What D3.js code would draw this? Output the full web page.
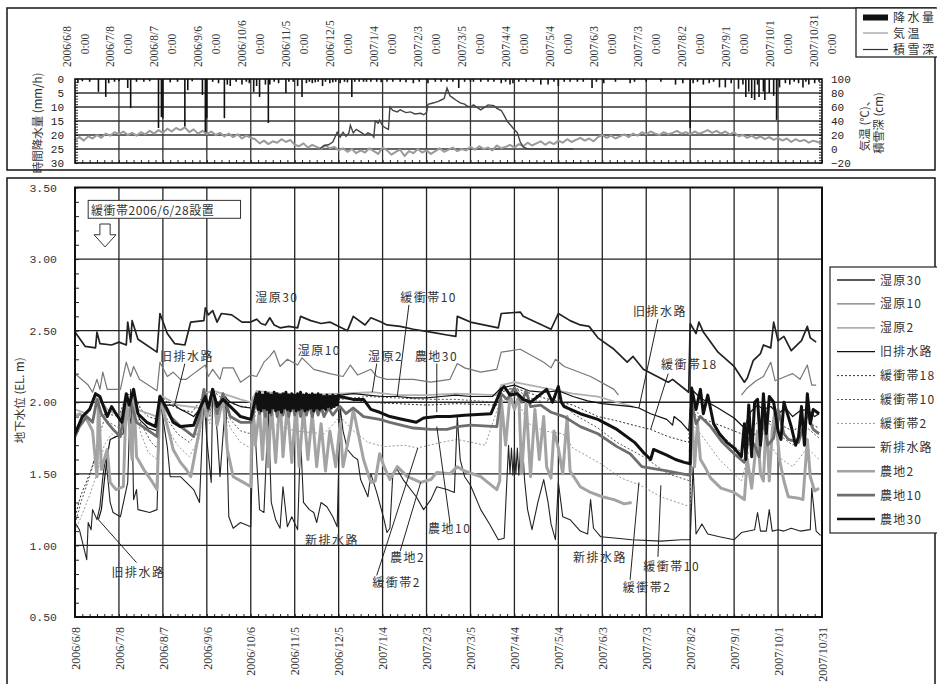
<!DOCTYPE html>
<html>
<head>
<meta charset="utf-8">
<script src="https://cdn.jsdelivr.net/npm/d3@7"></script>
<style>
  body { margin: 0; background: #fff; }
  svg { display: block; }
</style>
</head>
<body>
<svg id="chart" width="937" height="684"></svg>
<script>
// all x values are days since 2006/6/8 0:00
const tickDays = [0, 30, 60, 90, 120, 150, 180, 210, 240, 270, 300, 330, 360, 390, 420, 450, 480, 510];
const tickLabels = ['2006/6/8', '2006/7/8', '2006/8/7', '2006/9/6', '2006/10/6', '2006/11/5', '2006/12/5',
  '2007/1/4', '2007/2/3', '2007/3/5', '2007/4/4', '2007/5/4', '2007/6/3', '2007/7/3', '2007/8/2',
  '2007/9/1', '2007/10/1', '2007/10/31'];
const rainTicks = [0, 5, 10, 15, 20, 25, 30];
const tempTicks = [100, 80, 60, 40, 20, 0, -20];
const gwTicks = [0.5, 1.0, 1.5, 2.0, 2.5, 3.0, 3.5];

// hourly precipitation (mm/h): [day, mm]
const rain = [[2, 1.4], [10, 1], [16, 4.6], [21, 6.4], [23, 1.5], [36, 3.2], [38, 10.4], [42, 1], [57, 17.5], [59, 13.6],
  [60, 14], [70, 1], [75, 17], [77, 4], [87, 5.7], [89, 18.9], [90, 14], [98, 1.5], [102, 14], [104, 2], [106, 2.5],
  [114, 2], [122, 4.6], [124, 2.5], [126, 6.4], [130, 2], [132, 15.7], [133, 2], [144, 5], [146, 1], [152, 2.5],
  [155, 6.4], [158, 1.5], [162, 1.5], [166, 1], [169, 2.5], [174, 1.5], [178, 1], [181, 1.5], [189, 6.4], [191, 1],
  [197, 1], [202, 1], [206, 1], [213, 1], [222, 1], [231, 1.5], [241, 1.5], [254, 1], [262, 3.2], [270, 1], [272, 1],
  [282, 1], [291, 1.5], [297, 2], [299, 1.5], [308, 1], [318, 2], [323, 2], [330, 2.5], [334, 1], [338, 1], [347, 1],
  [353, 3.2], [361, 1.5], [379, 1.5], [382, 1], [390, 1], [410, 2], [415, 1.5], [420, 17.5], [422, 1.5], [429, 2],
  [433, 1.5], [440, 3], [444, 3], [453, 3.5], [458, 6.4], [460, 4.5], [462, 6.8], [464, 7.5], [467, 6.4], [470, 4.5],
  [471, 7.5], [474, 5], [477, 6], [479, 14.6], [481, 3], [488, 2], [494, 1.5], [497, 3], [501, 2], [505, 1.5],
  [5, 0.8], [27, 1], [30, 0.8], [47, 1], [51, 0.8], [65, 1.2], [80, 0.8], [94, 1], [110, 1], [117, 1], [119, 1.5],
  [136, 1], [139, 1.5], [149, 1], [160, 1], [164, 1.2], [171, 1], [176, 1.2], [184, 1], [186, 1.2], [194, 1], [199, 1],
  [209, 1.2], [217, 1], [226, 1.2], [235, 1], [246, 1], [250, 1], [258, 1], [266, 1], [277, 1], [286, 1], [294, 1],
  [303, 1], [313, 1], [327, 1], [343, 1], [356, 1], [369, 1], [400, 1], [425, 1], [436, 1], [448, 1.5], [456, 2],
  [466, 2], [485, 1.5], [491, 1], [499, 1], [508, 1]];

// air temperature (deg C), one reading every 3 days from day 0
const tempStep = 3;
const temp = [13, 17, 12, 18, 15, 20, 16, 22, 19, 24, 21,
  25, 20, 23, 19, 24, 21, 26, 22, 27, 23,
  29, 25, 30, 27, 31, 24, 28, 22, 26, 21,
  25, 20, 23, 18, 22, 17, 21, 15, 19, 16,
  14, 8, 12, 7, 11, 9, 14, 10, 13, 6,
  4, 8, 2, 6, 3, 0, 5, 1, 3, -2,
  1, -4, 0, -6, -2, -5, 1, -3, -7, 2,
  -2, -8, -4, -1, -10, -3, -6, 0, -5, -2,
  -7, -3, 1, -4, -1, 2, -3, 0, -2, 3,
  -1, 4, 0, 2, -2, 5, 1, 3, 6, 2,
  7, 4, 9, 5, 8, 11, 6, 10, 7, 12,
  9, 14, 10, 13, 16, 12, 15, 11, 17, 20,
  16, 19, 15, 18, 21, 17, 22, 19, 24, 21,
  25, 22, 20, 24, 21, 23, 26, 22, 24, 21,
  25, 22, 24, 27, 23, 26, 22, 25, 21, 24,
  18, 20, 16, 19, 15, 18, 14, 17, 13, 16,
  12, 15, 10, 14, 11, 13, 9, 12, 10, 8];

// snow depth (cm): [day, cm]
const snow = [[167, 0], [170, 5], [173, 6], [176, 10], [179, 24], [181, 17], [183, 24], [185, 18], [187, 23], [188, 34],
  [190, 23], [192, 28], [195, 24], [198, 20], [200, 23], [203, 20], [204, 17], [205, 40], [207, 37], [208, 41], [210, 33],
  [212, 30], [214, 28], [215, 60], [217, 55], [220, 53], [222, 56], [226, 52], [229, 53], [232, 50], [236, 51], [238, 49],
  [240, 52], [241, 64], [245, 66], [248, 68], [250, 70], [252, 72], [254, 87], [256, 76], [258, 73], [260, 70], [263, 66],
  [266, 64], [268, 61], [270, 60], [272, 63], [277, 56], [280, 60], [282, 63], [286, 62], [288, 58], [291, 55], [293, 48],
  [295, 40], [297, 35], [299, 30], [302, 23], [304, 10], [306, 3], [309, 0], [340, 0]];

// groundwater level (EL. m): [day, m]
const shitsugen30 = [[0, 2.49], [7, 2.39], [14, 2.38], [15, 2.49], [17, 2.41], [25, 2.40], [30, 2.42], [35, 2.40], [36, 2.56],
  [38, 2.42], [39, 2.57], [43, 2.44], [56, 2.35], [58, 2.62], [63, 2.48], [68, 2.41], [75, 2.40], [79, 2.56], [88, 2.57],
  [89, 2.66], [91, 2.61], [94, 2.64], [97, 2.56], [100, 2.62], [107, 2.61], [114, 2.56], [120, 2.56], [124, 2.58], [127, 2.55],
  [130, 2.54], [133, 2.59], [136, 2.54], [140, 2.52], [146, 2.53], [152, 2.52], [154, 2.60], [161, 2.57], [168, 2.55], [174, 2.56],
  [186, 2.50], [190, 2.60], [198, 2.54], [202, 2.59], [209, 2.56], [213, 2.54], [222, 2.53], [231, 2.51], [243, 2.49],
  [254, 2.47], [260, 2.46], [261, 2.60], [270, 2.56], [289, 2.52], [291, 2.62], [304, 2.63], [306, 2.60], [325, 2.51],
  [330, 2.62], [338, 2.57], [345, 2.54], [351, 2.53], [357, 2.45], [368, 2.37], [377, 2.28], [381, 2.32], [388, 2.23],
  [405, 2.14], [408, 2.16], [419, 2.07], [420, 2.55], [424, 2.48], [426, 2.56], [429, 2.49], [439, 2.35], [450, 2.25],
  [457, 2.14], [459, 2.17], [463, 2.29], [468, 2.34], [470, 2.40], [475, 2.38], [477, 2.56], [480, 2.43], [484, 2.46],
  [489, 2.36], [496, 2.43], [500, 2.53], [502, 2.45], [506, 2.42]];
const shitsugen10 = [[0, 2.20], [9, 2.12], [12, 2.07], [15, 2.16], [17, 2.09], [19, 2.21], [22, 2.09], [31, 2.09], [35, 2.28],
  [38, 2.18], [40, 2.25], [44, 2.16], [56, 2.08], [58, 2.28], [63, 2.18], [67, 2.21], [72, 2.16], [76, 2.16], [81, 2.20],
  [89, 2.26], [91, 2.18], [94, 2.23], [99, 2.16], [101, 2.24], [108, 2.24], [113, 2.14], [120, 2.19], [124, 2.18], [129, 2.28],
  [133, 2.32], [136, 2.36], [140, 2.25], [145, 2.30], [152, 2.26], [155, 2.31], [163, 2.23], [174, 2.20], [183, 2.18],
  [188, 2.26], [193, 2.19], [202, 2.23], [206, 2.18], [213, 2.16], [231, 2.16], [243, 2.14], [256, 2.16], [261, 2.27],
  [266, 2.24], [277, 2.21], [288, 2.23], [291, 2.35], [304, 2.37], [320, 2.28], [325, 2.24], [328, 2.30], [334, 2.25],
  [352, 2.18], [368, 2.09], [371, 2.05], [372, null], [455, 2.05], [459, 2.10], [465, 2.15], [470, 2.18], [475, 2.28],
  [478, 2.15], [485, 2.18], [490, 2.20], [495, 2.16], [500, 2.26], [503, 2.12], [506, 2.12]];
const shitsugen2 = [[0, 1.95], [8, 1.92], [15, 2.05], [22, 1.95], [31, 1.90], [35, 2.04], [42, 1.95], [56, 1.90], [58, 2.05],
  [70, 1.98], [85, 1.96], [88, 2.06], [94, 2.08], [101, 2.06], [113, 2.02], [120, 2.00], [124, 2.08], [140, 2.06], [160, 2.05],
  [181, 2.06], [203, 2.07], [220, 2.05], [240, 2.05], [260, 2.06], [288, 2.05], [291, 2.12], [300, 2.14], [320, 2.10],
  [340, 2.06], [357, 2.04], [370, 2.00], [381, 1.97]];
const kyuHaisuiro = [[16, 1.18], [18, 1.25], [20, 1.45], [22, 1.62], [24, 1.74], [28, 1.76], [33, 1.78], [35, 2.00], [38, 1.85],
  [40, 2.05], [44, 1.88], [50, 1.82], [56, 1.80], [58, 2.02], [62, 1.98], [68, 1.98], [72, 1.95], [76, 1.93], [81, 1.90],
  [85, 1.95], [88, 2.06], [91, 1.98], [94, 2.07], [98, 1.98], [101, 2.05], [106, 2.00], [113, 1.97], [120, 1.96], [124, 2.06],
  [130, 2.05], [140, 2.04], [150, 2.05], [160, 2.04], [170, 2.04], [181, 2.05], [190, 2.06], [200, 2.05], [210, 2.04],
  [220, 2.04], [230, 2.03], [240, 2.03], [250, 2.04], [260, 2.05], [270, 2.04], [285, 2.04], [291, 2.10], [300, 2.12],
  [310, 2.08], [320, 2.07], [330, 2.08], [340, 2.04], [350, 2.01], [360, 1.99], [370, 1.98], [380, 1.97], [385, 1.96],
  [393, 1.92], [404, 1.88], [408, 1.84], [409, 1.90], [414, 1.86], [419, 1.80], [420, 1.95], [422, 2.08], [427, 2.03],
  [439, 1.96], [450, 1.89], [457, 1.82], [461, 1.93], [466, 1.98], [470, 1.95], [475, 1.97], [480, 1.92], [485, 1.96],
  [490, 1.90], [495, 1.94], [500, 1.95], [505, 1.90], [508, 1.92]];
const kanshoutai18 = [[0, 1.20], [4, 1.35], [10, 1.50], [15, 1.65], [17, 1.90], [22, 1.92], [30, 1.90], [35, 2.05], [40, 2.06],
  [45, 1.95], [50, 1.90], [56, 1.88], [58, 2.05], [65, 1.98], [72, 1.95], [80, 1.93], [88, 2.05], [94, 2.08], [100, 2.03],
  [110, 1.98], [120, 1.96], [124, 2.05], [150, 2.04], [181, 2.03], [200, 2.00], [220, 1.99], [240, 1.98], [260, 1.99],
  [288, 1.98], [291, 2.08], [300, 2.10], [320, 2.03], [340, 1.98], [357, 1.90], [370, 1.87], [385, 1.83], [393, 1.81],
  [405, 1.76], [419, 1.72], [420, 1.95], [425, 1.90], [440, 1.84], [455, 1.78], [460, 1.70], [470, 1.88], [480, 1.85],
  [490, 1.80], [500, 1.86], [508, 1.82]];
const kanshoutai10 = [[0, 1.15], [4, 1.30], [8, 1.42], [12, 1.55], [16, 1.75], [20, 1.88], [25, 1.85], [30, 1.82], [35, 2.03],
  [40, 2.05], [45, 1.85], [52, 1.72], [56, 1.68], [58, 2.02], [63, 1.88], [70, 1.78], [78, 1.72], [85, 1.80], [88, 2.03],
  [92, 1.90], [94, 2.07], [98, 1.90], [101, 2.03], [106, 1.88], [113, 1.80], [120, 1.78], [124, 2.04], [130, 1.98],
  [140, 2.02], [150, 2.00], [165, 1.98], [181, 2.02], [200, 2.04], [220, 2.03], [240, 2.02], [260, 2.02], [288, 2.00],
  [291, 2.07], [300, 2.10], [310, 2.03], [320, 2.00], [330, 2.04], [340, 1.92], [357, 1.82], [370, 1.72], [388, 1.62],
  [405, 1.50], [420, 1.45], [421, 1.98], [427, 1.90], [440, 1.78], [455, 1.65], [460, 1.80], [470, 1.90], [480, 1.78],
  [490, 1.70], [500, 1.82], [508, 1.75]];
const kanshoutai2 = [[0, 1.10], [5, 1.22], [10, 1.35], [15, 1.50], [20, 1.70], [25, 1.78], [30, 1.74], [35, 2.00], [40, 2.02],
  [45, 1.78], [50, 1.65], [56, 1.60], [58, 1.98], [63, 1.82], [70, 1.70], [78, 1.62], [85, 1.75], [88, 2.00], [92, 1.85],
  [94, 2.05], [98, 1.85], [101, 2.00], [106, 1.82], [113, 1.72], [120, 1.68], [124, 1.98], [135, 1.85], [150, 1.80],
  [170, 1.78], [181, 1.90], [190, 1.80], [200, 1.72], [211, 1.69], [225, 1.70], [234, 1.68], [250, 1.72], [261, 1.74],
  [280, 1.70], [290, 2.00], [300, 2.05], [310, 1.85], [320, 1.80], [333, 1.78], [340, 1.68], [359, 1.57], [373, 1.47],
  [386, 1.42], [400, 1.34], [420, 1.27], [421, 1.85], [427, 1.78], [440, 1.60], [455, 1.45], [460, 1.65], [470, 1.78],
  [480, 1.62], [490, 1.55], [500, 1.68], [508, 1.60]];
const shinHaisuiro = [[0, 1.16], [3, 1.11], [8, 0.90], [9, 1.16], [11, 1.11], [12, 1.25], [15, 1.18], [17, 1.27], [19, 1.48],
  [21, 1.62], [24, 1.30], [26, 1.23], [31, 1.20], [36, 1.44], [38, 2.09], [39, 1.86], [40, 1.32], [42, 1.39], [43, 1.25],
  [51, 1.23], [56, 1.25], [58, 2.02], [63, 1.69], [65, 1.48], [72, 1.48], [76, 1.44], [81, 1.39], [85, 1.30], [88, 2.04],
  [90, 1.74], [93, 1.44], [94, 2.09], [97, 1.80], [99, 1.48], [103, 2.04], [105, 1.20], [108, 1.12], [113, 1.16], [120, 1.13],
  [122, 1.99], [124, 1.60], [126, 1.25], [129, 1.23], [132, 1.95], [134, 1.30], [137, 1.18], [140, 1.12], [142, 1.41],
  [145, 1.13], [148, 1.20], [152, 1.11], [154, 1.76], [156, 1.30], [160, 1.25], [163, 1.23], [165, 1.16], [168, 1.30],
  [172, 1.27], [176, 1.20], [179, 1.13], [181, 1.97], [183, 1.80], [186, 1.67], [190, 1.62], [193, 1.60], [195, 1.46],
  [200, 1.34], [202, 1.50], [206, 1.37], [211, 1.18], [213, 1.09], [215, 1.12], [217, 1.50], [220, 1.53], [224, 1.46],
  [233, 1.34], [238, 1.25], [243, 1.32], [247, 1.41], [254, 1.39], [259, 1.37], [261, 1.90], [263, 1.60], [266, 1.48],
  [270, 1.42], [277, 1.25], [283, 1.15], [289, 1.04], [293, 1.05], [296, 1.70], [297, 1.50], [298, 1.68], [299, 1.49],
  [300, 1.67], [301, 1.50], [302, 1.68], [303, 1.49], [304, 1.66], [305, 1.50], [306, 1.62], [307, 1.45], [309, 1.25],
  [312, 1.11], [316, 1.30], [320, 1.46], [323, 1.30], [325, 1.15], [328, 1.04], [330, 1.44], [333, 1.20], [338, 1.18],
  [345, 1.10], [350, 1.08], [352, 1.32], [354, 1.12], [359, 1.06], [370, 1.05], [380, 1.04], [400, 1.03], [414, 1.04],
  [420, 1.04], [422, 1.55], [424, 1.08], [428, 1.15], [432, 1.08], [440, 1.06], [450, 1.04], [455, 1.09], [464, 1.11],
  [466, 1.23], [468, 1.10], [472, 1.10], [474, 1.25], [476, 1.10], [480, 1.11], [484, 1.10], [489, 1.12], [495, 1.10],
  [502, 1.11], [503, 1.40], [506, 1.10], [509, 1.07]];
const nouchi2 = [[0, 1.90], [3, 1.92], [8, 1.88], [12, 1.80], [15, 1.48], [16, 2.02], [18, 1.53], [22, 1.67], [24, 1.44],
  [28, 1.39], [33, 1.41], [35, 2.02], [37, 1.85], [39, 1.60], [40, 2.09], [42, 1.62], [47, 1.53], [53, 1.44], [56, 1.39],
  [58, 2.04], [60, 1.95], [65, 1.76], [67, 1.67], [72, 1.58], [76, 1.53], [79, 1.48], [85, 1.81], [88, 2.04], [90, 1.90],
  [94, 2.09], [97, 1.84], [101, 2.04], [104, 1.67], [108, 1.48], [115, 1.44], [120, 1.41], [121, 2.02], [123, 1.70],
  [126, 1.95], [128, 1.60], [130, 2.03], [132, 1.55], [134, 2.00], [137, 1.58], [140, 2.05], [142, 1.62], [145, 1.98],
  [148, 1.58], [151, 2.00], [153, 1.55], [156, 1.96], [159, 1.60], [162, 1.92], [165, 1.55], [168, 1.85], [171, 1.52],
  [174, 1.80], [178, 1.55], [181, 1.85], [183, 1.55], [188, 1.81], [190, 1.95], [194, 1.75], [197, 1.60], [202, 1.44],
  [205, 1.45], [208, 1.64], [211, 1.55], [215, 1.46], [220, 1.55], [227, 1.48], [236, 1.44], [243, 1.46], [247, 1.51],
  [256, 1.50], [261, 1.55], [266, 1.52], [277, 1.48], [288, 1.39], [290, 1.45], [291, 2.02], [294, 1.70], [297, 2.05],
  [300, 1.95], [303, 2.04], [305, 1.50], [308, 2.00], [311, 1.48], [314, 1.95], [317, 1.60], [320, 1.90], [322, 1.55],
  [325, 1.47], [327, 1.80], [330, 1.68], [333, 1.50], [336, 1.90], [338, 1.52], [345, 1.41], [352, 1.37], [360, 1.34],
  [368, 1.32], [375, 1.29], [380, 1.30], [381, null], [420, 1.65], [421, 1.95], [423, 1.55], [425, 1.85], [427, 1.60],
  [430, 1.55], [434, 1.47], [441, 1.40], [450, 1.37], [457, 1.32], [459, 1.60], [462, 1.40], [466, 1.80], [468, 1.50],
  [470, 1.45], [472, 1.90], [474, 1.45], [476, 1.80], [478, 1.95], [481, 1.60], [484, 1.45], [487, 1.34], [494, 1.33],
  [497, 1.32], [500, 1.74], [502, 1.48], [505, 1.38], [508, 1.40]];
const nouchi10 = [[0, 1.76], [3, 1.83], [8, 1.90], [12, 1.86], [15, 2.02], [18, 1.92], [22, 1.86], [26, 1.81], [31, 1.76],
  [35, 2.04], [38, 2.00], [42, 1.86], [49, 1.81], [56, 1.76], [58, 2.04], [62, 1.95], [65, 1.90], [72, 1.83], [76, 1.80],
  [81, 1.76], [85, 1.90], [88, 2.09], [91, 1.94], [94, 2.09], [97, 1.92], [101, 2.06], [106, 1.90], [113, 1.86], [120, 1.86],
  [124, 2.02], [126, 1.92], [128, 2.01], [130, 1.90], [132, 2.03], [134, 1.91], [136, 2.04], [138, 1.90], [140, 2.02],
  [142, 1.91], [144, 2.01], [146, 1.90], [148, 2.02], [150, 1.91], [152, 2.00], [154, 1.90], [156, 2.01], [158, 1.91],
  [160, 1.99], [162, 1.90], [164, 1.98], [166, 1.91], [168, 1.97], [170, 1.90], [173, 1.96], [176, 1.91], [179, 1.95],
  [181, 1.97], [185, 1.92], [190, 1.96], [197, 1.90], [208, 1.88], [215, 1.86], [231, 1.82], [243, 1.81], [254, 1.81],
  [261, 1.83], [270, 1.84], [288, 1.83], [291, 2.06], [295, 2.02], [300, 2.10], [305, 2.00], [308, 2.08], [311, 1.97],
  [318, 1.98], [325, 1.93], [334, 1.90], [345, 1.83], [357, 1.78], [370, 1.69], [379, 1.64], [387, 1.55], [404, 1.52],
  [420, 1.49], [421, 2.00], [424, 1.85], [427, 1.90], [434, 1.83], [442, 1.72], [450, 1.64], [457, 1.58], [460, 1.75],
  [464, 1.70], [467, 1.62], [470, 1.88], [473, 1.70], [477, 1.75], [480, 1.95], [484, 1.78], [487, 1.74], [494, 1.72],
  [500, 1.92], [504, 1.81], [508, 1.78]];
const nouchi30 = [[0, 1.78], [5, 1.90], [10, 1.95], [14, 2.06], [17, 2.04], [22, 1.90], [25, 1.97], [28, 1.92], [32, 1.86],
  [35, 2.06], [37, 1.98], [40, 2.09], [43, 1.92], [49, 1.86], [55, 1.83], [58, 2.04], [63, 1.95], [67, 1.86], [72, 1.83],
  [81, 1.84], [85, 1.95], [89, 2.04], [91, 1.96], [94, 2.09], [97, 1.97], [101, 2.02], [108, 1.95], [113, 1.90], [120, 1.88],
  [124, 2.06], [125, 1.95], [126, 2.07], [127, 1.94], [128, 2.05], [129, 1.96], [130, 2.07], [131, 1.95], [132, 2.06],
  [133, 1.93], [134, 2.05], [135, 1.96], [136, 2.07], [137, 1.94], [138, 2.06], [139, 1.95], [140, 2.05], [141, 1.93],
  [142, 2.06], [143, 1.96], [144, 2.07], [145, 1.95], [146, 2.05], [147, 1.94], [148, 2.06], [149, 1.96], [150, 2.05],
  [151, 1.94], [152, 2.06], [153, 1.95], [154, 2.07], [155, 1.96], [156, 2.05], [157, 1.94], [158, 2.06], [159, 1.95],
  [160, 2.05], [161, 1.96], [162, 2.06], [163, 1.94], [164, 2.05], [165, 1.96], [166, 2.06], [167, 1.95], [168, 2.05],
  [169, 1.96], [170, 2.04], [171, 1.95], [172, 2.05], [173, 1.97], [174, 2.04], [175, 1.96], [176, 2.05], [177, 1.97],
  [178, 2.04], [179, 1.98], [180, 2.05], [181, 2.04], [190, 2.02], [197, 2.02], [202, 1.95], [208, 1.93],
  [215, 1.90], [224, 1.88], [233, 1.86], [238, 1.89], [247, 1.90], [256, 1.90], [266, 1.91], [284, 1.92], [291, 2.09],
  [293, 2.11], [297, 2.05], [302, 2.06], [306, 2.02], [311, 2.00], [316, 2.04], [322, 2.09], [326, 2.00], [330, 2.11],
  [332, 2.00], [334, 1.97], [345, 1.92], [357, 1.88], [370, 1.81], [382, 1.72], [388, 1.65], [393, 1.60], [395, 1.67],
  [404, 1.63], [410, 1.60], [416, 1.58], [420, 1.57], [421, 2.10], [424, 1.95], [427, 2.09], [429, 1.92], [432, 2.05],
  [436, 1.85], [440, 1.78], [445, 1.72], [450, 1.68], [455, 1.62], [457, 1.85], [458, 1.60], [460, 1.98], [462, 1.62],
  [464, 2.00], [466, 2.02], [468, 1.70], [470, 2.06], [472, 1.78], [474, 2.04], [477, 2.00], [480, 1.80], [482, 1.74],
  [484, 2.00], [487, 1.90], [489, 1.83], [492, 1.70], [494, 1.76], [496, 1.97], [498, 1.70], [500, 2.06], [502, 1.85],
  [504, 1.95], [508, 1.92]];

// series order = legend order; style table kept apart from the values
const gwSeries = [
  { name: '湿原30', data: shitsugen30 },
  { name: '湿原10', data: shitsugen10 },
  { name: '湿原2', data: shitsugen2 },
  { name: '旧排水路', data: kyuHaisuiro },
  { name: '緩衝帯18', data: kanshoutai18 },
  { name: '緩衝帯10', data: kanshoutai10 },
  { name: '緩衝帯2', data: kanshoutai2 },
  { name: '新排水路', data: shinHaisuiro },
  { name: '農地2', data: nouchi2 },
  { name: '農地10', data: nouchi10 },
  { name: '農地30', data: nouchi30 },
];
const gwStyle = {
  '湿原30': { color: '#222', width: 1.7 },
  '湿原10': { color: '#777', width: 1.2 },
  '湿原2': { color: '#b0b0b0', width: 1.8 },
  '旧排水路': { color: '#111', width: 1.2 },
  '緩衝帯18': { color: '#333', width: 1, dash: '2,2' },
  '緩衝帯10': { color: '#555', width: 1, dash: '2,2' },
  '緩衝帯2': { color: '#999', width: 1, dash: '2,2' },
  '新排水路': { color: '#222', width: 1.1 },
  '農地2': { color: '#a3a3a3', width: 3 },
  '農地10': { color: '#6e6e6e', width: 2.8 },
  '農地30': { color: '#111', width: 3 },
};
const drawOrder = ['緩衝帯2', '緩衝帯10', '緩衝帯18', '湿原2', '湿原10', '新排水路', '旧排水路', '農地2', '農地10', '農地30', '湿原30'];

// labels in the lower panel: [text, day, level, leader-from day, level, leader-to day, level]
const notes = [
  ['湿原30', 123, 2.70],
  ['緩衝帯10', 222, 2.70, 228, 2.68, 220, 2.04],
  ['湿原10', 152, 2.33],
  ['湿原2', 200, 2.29, 206, 2.27, 203, 2.07],
  ['農地30', 232, 2.29, 247, 2.27, 247, 1.93],
  ['旧排水路', 58, 2.29, 75, 2.27, 68, 1.98],
  ['旧排水路', 25, 0.78, 42, 0.88, 16, 1.18],
  ['農地10', 241, 1.09, 256, 1.16, 247, 1.83],
  ['新排水路', 157, 1.00],
  ['農地2', 215, 0.885, 222, 0.96, 236, 1.44],
  ['緩衝帯2', 203, 0.71, 206, 0.79, 234, 1.68],
  ['新排水路', 340, 0.885],
  ['緩衝帯2', 374, 0.675, 379, 0.76, 385, 1.44],
  ['緩衝帯10', 388, 0.82, 398, 0.92, 400, 1.42],
  ['旧排水路', 381, 2.60, 398, 2.58, 385, 1.96],
  ['緩衝帯18', 400, 2.23, 405, 2.20, 393, 1.81],
];

const MONO = '"Liberation Mono", monospace';
const SERIF = '"Liberation Serif", serif';
const JP = '"Noto Sans CJK JP", "Noto Sans CJK SC", sans-serif';

const svg = d3.select('#chart');
const plotL = 75;
const plotR = 822;
const topPanel = { t: 79, b: 163 };
const lowPanel = { t: 187.5, b: 617 };

const x = d3.scaleLinear().domain([0, 510]).range([plotL, plotR]);
const yRain = d3.scaleLinear().domain([0, 30]).range([topPanel.t, topPanel.b]);
const yTemp = d3.scaleLinear().domain([-20, 100]).range([topPanel.b, topPanel.t]);
const yGw = d3.scaleLinear().domain([0.5, 3.5]).range([lowPanel.b, lowPanel.t]);

// outer frames
svg.append('rect').attr('x', 7).attr('y', 8).attr('width', 928).attr('height', 162)
  .attr('fill', 'none').attr('stroke', '#222').attr('stroke-width', 1.6);
svg.append('rect').attr('x', 7).attr('y', 178).attr('width', 928).attr('height', 540)
  .attr('fill', 'none').attr('stroke', '#222').attr('stroke-width', 1.6);

const noDomain = g => g.select('.domain').remove();

// ---------- top panel ----------
const gt = svg.append('g');

gt.selectAll('line.hgrid').data(rainTicks.slice(1, -1)).join('line')
  .attr('x1', plotL).attr('x2', plotR)
  .attr('y1', d => yRain(d)).attr('y2', d => yRain(d))
  .attr('stroke', '#333').attr('stroke-width', 1.3);
gt.selectAll('line.vgrid').data(tickDays.slice(1, -1)).join('line')
  .attr('x1', d => x(d)).attr('x2', d => x(d))
  .attr('y1', topPanel.t).attr('y2', topPanel.b)
  .attr('stroke', '#333').attr('stroke-width', 1.3);

// minor ticks
gt.append('g').attr('transform', `translate(${plotL},0)`)
  .call(d3.axisLeft(yRain).tickValues(d3.range(0, 31)).tickSize(-3).tickFormat(''))
  .call(noDomain).selectAll('line').attr('stroke', '#222');
gt.append('g').attr('transform', `translate(${plotR},0)`)
  .call(d3.axisRight(yTemp).tickValues(d3.range(-20, 101, 4)).tickSize(-3).tickFormat(''))
  .call(noDomain).selectAll('line').attr('stroke', '#222');
gt.append('g').attr('transform', `translate(0,${topPanel.b})`)
  .call(d3.axisBottom(x).tickValues(d3.range(0, 511, 5)).tickSize(-3).tickFormat(''))
  .call(noDomain).selectAll('line').attr('stroke', '#222');

// temperature, snow depth, rain
gt.append('path').datum(temp.map((v, i) => [i * tempStep, v]))
  .attr('fill', 'none').attr('stroke', '#9a9a9a').attr('stroke-width', 2)
  .attr('stroke-linejoin', 'round')
  .attr('d', d3.line().x(d => x(d[0])).y(d => yTemp(d[1])));
gt.append('path').datum(snow)
  .attr('fill', 'none').attr('stroke', '#444').attr('stroke-width', 1.4)
  .attr('d', d3.line().x(d => x(d[0])).y(d => yTemp(d[1])));
gt.selectAll('line.rain').data(rain).join('line')
  .attr('x1', d => x(d[0])).attr('x2', d => x(d[0]))
  .attr('y1', yRain(0)).attr('y2', d => yRain(d[1]))
  .attr('stroke', '#111').attr('stroke-width', 1.6);

gt.append('rect').attr('x', plotL).attr('y', topPanel.t)
  .attr('width', plotR - plotL).attr('height', topPanel.b - topPanel.t)
  .attr('fill', 'none').attr('stroke', '#111').attr('stroke-width', 1.6);

// top axis labels
gt.append('g').attr('transform', `translate(${plotL},0)`)
  .call(d3.axisLeft(yRain).tickValues(rainTicks).tickSize(0).tickPadding(11))
  .call(noDomain)
  .selectAll('text').style('font-family', MONO).style('font-size', '11px').attr('fill', '#222');
gt.append('g').attr('transform', `translate(${plotR},0)`)
  .call(d3.axisRight(yTemp).tickValues(tempTicks).tickSize(0).tickPadding(9)
    .tickFormat(d => (d < 0 ? '−' + Math.abs(d) : d)))
  .call(noDomain)
  .selectAll('text').style('font-family', MONO).style('font-size', '11px').attr('fill', '#222');

const topX = gt.append('g')
  .call(d3.axisTop(x).tickValues(tickDays).tickSize(0).tickFormat(''))
  .call(noDomain);
topX.selectAll('.tick').each(function (d, i) {
  const t = d3.select(this);
  t.append('text').attr('transform', 'rotate(-90)')
    .attr('x', -67).attr('y', -5).attr('text-anchor', 'start')
    .style('font-family', SERIF).style('font-size', '11.5px').attr('fill', '#333')
    .text(tickLabels[i]);
  t.append('text').attr('transform', 'rotate(-90)')
    .attr('x', -44).attr('y', 13).attr('text-anchor', 'middle')
    .style('font-family', SERIF).style('font-size', '11.5px').attr('fill', '#333')
    .text('0:00');
});

gt.append('text').attr('transform', `translate(42,${(topPanel.t + topPanel.b) / 2 + 2}) rotate(-90)`)
  .attr('text-anchor', 'middle').style('font-family', JP).style('font-size', '11.5px').attr('fill', '#333')
  .text('時間降水量 (mm/h)');
gt.append('text').attr('transform', 'translate(869,123) rotate(-90)')
  .attr('text-anchor', 'middle').style('font-family', JP).style('font-size', '11.5px').attr('fill', '#333')
  .text('気温 (℃)、');
gt.append('text').attr('transform', 'translate(883,123) rotate(-90)')
  .attr('text-anchor', 'middle').style('font-family', JP).style('font-size', '11.5px').attr('fill', '#333')
  .text('積雪深 (cm)');

// top legend
const lgTop = gt.append('g');
lgTop.append('rect').attr('x', 856).attr('y', 8).attr('width', 90).attr('height', 49)
  .attr('fill', '#fff').attr('stroke', '#222').attr('stroke-width', 1.3);
lgTop.append('rect').attr('x', 863).attr('y', 14.5).attr('width', 25).attr('height', 6).attr('fill', '#111');
lgTop.append('line').attr('x1', 863).attr('x2', 888).attr('y1', 33).attr('y2', 33)
  .attr('stroke', '#999').attr('stroke-width', 1.2);
lgTop.append('line').attr('x1', 863).attr('x2', 888).attr('y1', 49.5).attr('y2', 49.5)
  .attr('stroke', '#333').attr('stroke-width', 1.2);
[['降水量', 22], ['気温', 37.5], ['積雪深', 54]].forEach(([t, yy]) => {
  lgTop.append('text').attr('x', 893).attr('y', yy)
    .style('font-family', JP).style('font-size', '12px').style('letter-spacing', '2.5px').attr('fill', '#333')
    .text(t);
});

// ---------- lower panel ----------
const gb = svg.append('g');

gb.selectAll('line.hgrid').data(gwTicks.slice(1, -1)).join('line')
  .attr('x1', plotL).attr('x2', plotR)
  .attr('y1', d => yGw(d)).attr('y2', d => yGw(d))
  .attr('stroke', '#222').attr('stroke-width', 1.3);
gb.selectAll('line.vgrid').data(tickDays.slice(1, -1)).join('line')
  .attr('x1', d => x(d)).attr('x2', d => x(d))
  .attr('y1', lowPanel.t).attr('y2', lowPanel.b)
  .attr('stroke', '#222').attr('stroke-width', 1.3);

gb.append('g').attr('transform', `translate(${plotL},0)`)
  .call(d3.axisLeft(yGw).tickValues(d3.range(5, 36).map(v => v / 10)).tickSize(-4).tickFormat(''))
  .call(noDomain).selectAll('line').attr('stroke', '#222');
gb.append('g').attr('transform', `translate(0,${lowPanel.b})`)
  .call(d3.axisBottom(x).tickValues(d3.range(0, 511, 5)).tickSize(-3).tickFormat(''))
  .call(noDomain).selectAll('line').attr('stroke', '#222');

svg.append('clipPath').attr('id', 'clipLow').append('rect')
  .attr('x', plotL).attr('y', lowPanel.t).attr('width', plotR - plotL).attr('height', lowPanel.b - lowPanel.t);

const gwLine = d3.line().defined(d => d[1] != null).x(d => x(d[0])).y(d => yGw(d[1]));
const seriesByName = new Map(gwSeries.map(s => [s.name, s]));
gb.append('g').attr('clip-path', 'url(#clipLow)')
  .selectAll('path').data(drawOrder.map(n => seriesByName.get(n))).join('path')
  .attr('fill', 'none')
  .attr('stroke', d => gwStyle[d.name].color)
  .attr('stroke-width', d => gwStyle[d.name].width)
  .attr('stroke-dasharray', d => gwStyle[d.name].dash || null)
  .attr('stroke-linejoin', 'round')
  .attr('d', d => gwLine(d.data));

gb.append('rect').attr('x', plotL).attr('y', lowPanel.t)
  .attr('width', plotR - plotL).attr('height', lowPanel.b - lowPanel.t)
  .attr('fill', 'none').attr('stroke', '#111').attr('stroke-width', 2);

gb.append('g').attr('transform', `translate(${plotL},0)`)
  .call(d3.axisLeft(yGw).tickValues(gwTicks).tickSize(0).tickPadding(18).tickFormat(d3.format('.2f')))
  .call(noDomain)
  .selectAll('text').style('font-family', MONO).style('font-size', '11.5px').attr('fill', '#333');

const lowX = gb.append('g').attr('transform', `translate(0,${lowPanel.b})`)
  .call(d3.axisBottom(x).tickValues(tickDays).tickSize(0).tickFormat((d, i) => tickLabels[i]))
  .call(noDomain);
lowX.selectAll('text')
  .attr('transform', 'rotate(-90)').attr('x', -10).attr('y', 0).attr('dy', '0.35em')
  .attr('text-anchor', 'end')
  .style('font-family', SERIF).style('font-size', '12px').attr('fill', '#333');

gb.append('text').attr('transform', `translate(24,${(lowPanel.t + lowPanel.b) / 2 - 2}) rotate(-90)`)
  .attr('text-anchor', 'middle').style('font-family', JP).style('font-size', '11.5px').attr('fill', '#333')
  .text('地下水位 (EL. m)');

// installation note and arrow
gb.append('rect').attr('x', x(9)).attr('y', yGw(3.41))
  .attr('width', x(113) - x(9)).attr('height', yGw(3.285) - yGw(3.41))
  .attr('fill', '#fff').attr('stroke', '#333').attr('stroke-width', 1);
gb.append('text').attr('x', x(11)).attr('y', yGw(3.31))
  .style('font-family', JP).style('font-size', '12px').style('letter-spacing', '0.5px').attr('fill', '#333')
  .text('緩衝帯2006/6/28設置');
const arrowPts = [[17, 3.245], [24, 3.245], [24, 3.17], [28, 3.17], [20.5, 3.085], [13, 3.17], [17, 3.17]];
gb.append('path')
  .attr('d', d3.line().x(d => x(d[0])).y(d => yGw(d[1]))(arrowPts) + 'Z')
  .attr('fill', '#fff').attr('stroke', '#333').attr('stroke-width', 1);

// series labels with leader lines
notes.forEach(n => {
  if (n.length > 3) {
    gb.append('line')
      .attr('x1', x(n[3])).attr('y1', yGw(n[4]))
      .attr('x2', x(n[5])).attr('y2', yGw(n[6]))
      .attr('stroke', '#222').attr('stroke-width', 1);
  }
  gb.append('text').attr('x', x(n[1])).attr('y', yGw(n[2]))
    .style('font-family', JP).style('font-size', '12px').style('letter-spacing', '1.5px')
    .attr('fill', '#333')
    .text(n[0]);
});

// lower legend
const lg = gb.append('g');
lg.append('rect').attr('x', 830).attr('y', 267).attr('width', 120).attr('height', 266)
  .attr('fill', '#fff').attr('stroke', '#222').attr('stroke-width', 1.2);
gwSeries.forEach((s, i) => {
  const yy = 280 + i * 23.9;
  const st = gwStyle[s.name];
  lg.append('line').attr('x1', 837).attr('x2', 875).attr('y1', yy).attr('y2', yy)
    .attr('stroke', st.color).attr('stroke-width', Math.min(st.width, 2.6))
    .attr('stroke-dasharray', st.dash || null);
  lg.append('text').attr('x', 880).attr('y', yy + 4.5)
    .style('font-family', JP).style('font-size', '12px').style('letter-spacing', '1.2px')
    .attr('fill', '#333')
    .text(s.name);
});
</script>
</body>
</html>
